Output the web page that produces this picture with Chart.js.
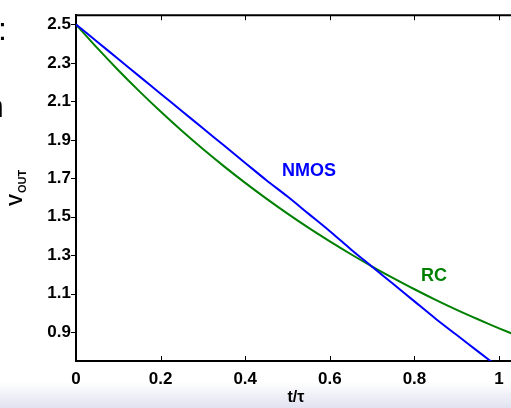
<!DOCTYPE html>
<html>
<head>
<meta charset="utf-8">
<script src="https://cdn.jsdelivr.net/npm/chart.js@4.4.0/dist/chart.umd.min.js"></script>
<style>
  html, body { margin: 0; padding: 0; overflow: hidden; background: #fff; }
  #caixa { width: 516px; height: 408px; }
</style>
</head>
<body>
<div id="caixa"><canvas id="grafica" width="516" height="408"></canvas></div>
<script>
// temps normalitzat t/tau i tensions llegides de la figura
var temps = [0, 0.05, 0.1, 0.15, 0.2, 0.25, 0.3, 0.35, 0.4, 0.45, 0.5, 0.55, 0.6, 0.65, 0.7, 0.75, 0.8, 0.85, 0.9, 0.95, 1.0, 1.04];
var vNmos = [2.5, 2.41, 2.32, 2.23, 2.14, 2.05, 1.96, 1.87, 1.78, 1.69, 1.605, 1.515, 1.425, 1.33, 1.24, 1.15, 1.06, 0.97, 0.885, 0.80, 0.715, 0.645];
var vRc = [2.5, 2.378, 2.262, 2.152, 2.047, 1.947, 1.852, 1.762, 1.676, 1.594, 1.516, 1.442, 1.372, 1.305, 1.241, 1.181, 1.123, 1.068, 1.016, 0.967, 0.920, 0.884];
var xTicks = [0, 0.2, 0.4, 0.6, 0.8, 1];
var yTicks = [0.9, 1.1, 1.3, 1.5, 1.7, 1.9, 2.1, 2.3, 2.5];

window.onload = function () {
    var fontTicks = { family: 'Arial, "Liberation Sans"', size: 17, weight: 'bold' };

    function punts(valors) {
        var llista = [];
        for (let i = 0; i < temps.length; i++) {
            llista.push({ x: temps[i], y: valors[i] });
        }
        return llista;
    }

    // dibuixa el fons, les marques i els textos
    const extres = {
        id: 'extres',
        beforeDraw: function (chart) {
            let c = chart.ctx;
            c.save();
            c.fillStyle = '#ffffff';
            c.fillRect(0, 0, chart.width, chart.height);
            let grad = c.createLinearGradient(0, 382, 0, 408);
            grad.addColorStop(0, '#ffffff');
            grad.addColorStop(1, '#e0e2f0');
            c.fillStyle = grad;
            c.fillRect(0, 382, chart.width, 26);
            c.restore();
        },
        afterDraw: function (chart) {
            let c = chart.ctx;
            let area = chart.chartArea;
            let sx = chart.scales.x;
            let sy = chart.scales.y;
            c.save();
            c.strokeStyle = '#000';
            c.lineWidth = 2;
            // vora superior
            c.beginPath();
            c.moveTo(area.left - 1, area.top);
            c.lineTo(area.right, area.top);
            c.stroke();
            c.lineWidth = 1;
            c.beginPath();
            for (let i = 0; i < xTicks.length; i++) {
                let px = Math.round(sx.getPixelForValue(xTicks[i])) + 0.5;
                c.moveTo(px, area.bottom);
                c.lineTo(px, area.bottom - 5);
                c.moveTo(px, area.top);
                c.lineTo(px, area.top + 5);
            }
            for (let i = 0; i < yTicks.length; i++) {
                let py = Math.round(sy.getPixelForValue(yTicks[i])) + 0.5;
                c.moveTo(area.left - 5, py);
                c.lineTo(area.left, py);
            }
            c.stroke();

            // etiquetes de les corbes
            c.font = 'bold 18px Arial, "Liberation Sans"';
            c.textAlign = 'center';
            c.textBaseline = 'middle';
            c.fillStyle = 'rgb(0,0,255)';
            c.fillText('NMOS', sx.getPixelForValue(0.551), sy.getPixelForValue(1.739));
            c.fillStyle = 'rgb(0,128,0)';
            c.fillText('RC', sx.getPixelForValue(0.846), sy.getPixelForValue(1.191));

            // titol de l'eix y amb subindex
            c.fillStyle = '#000';
            c.translate(22, 188);
            c.rotate(-Math.PI / 2);
            c.textAlign = 'left';
            c.textBaseline = 'alphabetic';
            c.font = 'bold 18px Arial, "Liberation Sans"';
            let ampleV = c.measureText('V').width;
            c.font = 'bold 11px Arial, "Liberation Sans"';
            let ampleSub = c.measureText('OUT').width;
            let inici = -(ampleV + ampleSub + 1) / 2;
            c.font = 'bold 18px Arial, "Liberation Sans"';
            c.fillText('V', inici, 0);
            c.font = 'bold 11px Arial, "Liberation Sans"';
            c.fillText('OUT', inici + ampleV + 1, 4);
            c.restore();

            // restes del text de la diapositiva
            c.save();
            c.fillStyle = '#000';
            c.font = '32px Arial, "Liberation Sans"';
            c.textBaseline = 'alphabetic';
            c.fillText(':', -2, 40);
            c.fillText('n', -14, 117);
            c.restore();
        }
    };

    const ctx = document.getElementById('grafica');
    const grafica = new Chart(ctx, {
        type: 'line',
        data: {
            datasets: [{
                label: 'NMOS',
                data: punts(vNmos),
                borderColor: 'rgb(0,0,255)',
                borderWidth: 2,
                pointRadius: 0,
                tension: 0.3,
                fill: false
            }, {
                label: 'RC',
                data: punts(vRc),
                borderColor: 'rgb(0,128,0)',
                borderWidth: 2,
                pointRadius: 0,
                tension: 0.3,
                fill: false
            }]
        },
        options: {
            responsive: false,
            animation: false,
            layout: { padding: { left: 0, top: 10, right: 0, bottom: 0 } },
            plugins: {
                legend: { display: false },
                tooltip: { enabled: false }
            },
            scales: {
                x: {
                    type: 'linear',
                    min: 0,
                    max: 1.04,
                    afterFit: function (scale) { scale.height = 47; },
                    afterBuildTicks: function (scale) {
                        scale.ticks = xTicks.map(function (v) { return { value: v }; });
                    },
                    grid: { display: false, drawTicks: false },
                    border: { display: true, color: '#000', width: 2 },
                    ticks: {
                        color: '#000',
                        font: fontTicks,
                        padding: 8,
                        maxRotation: 0,
                        callback: function (v) { return String(v); }
                    },
                    title: {
                        display: true,
                        text: 't/τ',
                        color: '#000',
                        font: { family: 'Arial, "Liberation Sans"', size: 16, weight: 'bold' },
                        padding: { top: 0, bottom: 1 }
                    }
                },
                y: {
                    type: 'linear',
                    min: 0.75,
                    max: 2.548,
                    afterFit: function (scale) { scale.width = 76; },
                    afterBuildTicks: function (scale) {
                        scale.ticks = yTicks.map(function (v) { return { value: v }; });
                    },
                    grid: { display: false, drawTicks: false },
                    border: { display: true, color: '#000', width: 2 },
                    ticks: {
                        color: '#000',
                        font: fontTicks,
                        padding: 5,
                        callback: function (v) { return v.toFixed(1); }
                    }
                }
            }
        },
        plugins: [extres]
    });
};
</script>
</body>
</html>
